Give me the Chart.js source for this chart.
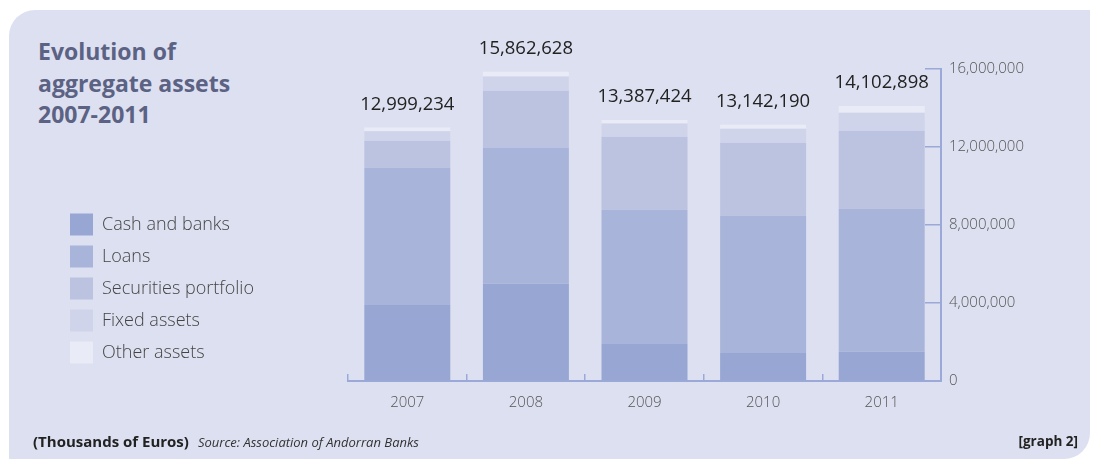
<!DOCTYPE html>
<html>
<head>
<meta charset="utf-8">
<script src="https://cdn.jsdelivr.net/npm/chart.js@4/dist/chart.umd.min.js"></script>
<style>
  html, body { margin: 0; padding: 0; background: #fff; }
  body { width: 1098px; height: 459px; position: relative; overflow: hidden; font-family: 'Open Sans', sans-serif; }
  .panel {
    position: absolute; left: 9px; top: 10px; width: 1081px; height: 449px;
    background: #dde0f0; border-radius: 26px 0 26px 0;
  }
  .title {
    position: absolute; left: 38px; top: 36px; margin: 0;
    font-size: 23px; line-height: 31.5px; font-weight: 700; color: #5b6283;
  }
  .wrap { position: absolute; left: 0; top: 0; width: 1098px; height: 459px; }
  .foot { position: absolute; top: 432px; font-size: 13.5px; color: #222; line-height: 18px; white-space: nowrap; }
  .foot b { font-weight: 700; }
  .foot .unit { font-size: 15px; }
  .foot i { font-size: 13px; margin-left: 9px; color: #333; }
</style>
</head>
<body>
<div class="panel"></div>
<h1 class="title">Evolution of<br>aggregate assets<br>2007-2011</h1>
<div class="wrap"><canvas id="chart"></canvas></div>
<div class="foot" style="left:33px"><b class="unit">(Thousands of Euros)</b><i>Source: Association of Andorran Banks</i></div>
<div class="foot" style="right:20px"><b>[graph 2]</b></div>

<script>
// thousands of euros
const years = ['2007', '2008', '2009', '2010', '2011'];
const cashAndBanks = [3901512, 4981207, 1902118, 1438925, 1503687];
const loans = [7031420, 6998354, 6879503, 7031876, 7325940];
const securities = [1387655, 2908716, 3748260, 3748102, 4003215];
const fixedAssets = [481236, 731529, 679334, 720413, 921368];
const otherAssets = [197411, 242822, 178209, 202874, 348688];
const yTicks = [0, 4000000, 8000000, 12000000, 16000000];

const AXIS = '#9aa9d8';
const tickFont = { family: 'Open Sans', size: 15, weight: '300' };

// total above each stack
const totalsPlugin = {
  id: 'totals',
  afterDatasetsDraw(chart) {
    const { ctx } = chart;
    const last = chart.getDatasetMeta(chart.data.datasets.length - 1);
    ctx.save();
    ctx.font = '400 18.5px "Open Sans"';
    ctx.fillStyle = '#222';
    ctx.textAlign = 'center';
    ctx.textBaseline = 'alphabetic';
    years.forEach((y, i) => {
      const total = chart.data.datasets.reduce((s, ds) => s + ds.data[i], 0);
      const bar = last.data[i];
      ctx.fillText(total.toLocaleString('en-US'), bar.x, bar.y - 18);
    });
    ctx.restore();
  }
};

// keep the legend column wide so the plot starts further right
const legendWidth = {
  id: 'legendWidth',
  beforeInit(chart) {
    const fit = chart.legend.fit;
    chart.legend.fit = function () {
      fit.call(this);
      this.width = 288;
    };
  }
};

new Chart(document.getElementById('chart'), {
  type: 'bar',
  data: {
    labels: years,
    datasets: [
      { label: 'Cash and banks', data: cashAndBanks, backgroundColor: '#97a6d2' },
      { label: 'Loans', data: loans, backgroundColor: '#a8b4da' },
      { label: 'Securities portfolio', data: securities, backgroundColor: '#bcc3e1' },
      { label: 'Fixed assets', data: fixedAssets, backgroundColor: '#d0d4eb' },
      { label: 'Other assets', data: otherAssets, backgroundColor: '#e9ebf6' }
    ]
  },
  options: {
    responsive: true,
    maintainAspectRatio: false,
    animation: false,
    layout: { padding: { left: 60, top: 69, right: 57, bottom: 38 } },
    datasets: { bar: { barPercentage: 0.725, categoryPercentage: 1, borderWidth: 0 } },
    plugins: {
      tooltip: { enabled: false },
      legend: {
        position: 'left',
        fullSize: false,
        align: 'center',
        title: { display: true, text: '', font: { size: 10, lineHeight: 1 }, padding: { top: 117, bottom: 0 } },
        labels: {
          boxWidth: 23,
          boxHeight: 22,
          padding: 10,
          color: '#444',
          font: { family: 'Open Sans', size: 18, weight: '300' }
        }
      }
    },
    scales: {
      x: {
        stacked: true,
        grid: { drawOnChartArea: false, offset: true, tickLength: -7, color: AXIS, lineWidth: 1.5 },
        border: { color: AXIS, width: 2 },
        ticks: { padding: 20, color: '#555', font: tickFont },
        afterFit(scale) { scale.height = 40; }
      },
      y: {
        stacked: true,
        position: 'right',
        min: 0,
        max: 16000000,
        afterBuildTicks(scale) { scale.ticks = yTicks.map(v => ({ value: v })); },
        grid: { drawOnChartArea: false, tickLength: -16, color: AXIS, lineWidth: 1.5 },
        border: { color: AXIS, width: 2 },
        ticks: { padding: 24, color: '#555', font: tickFont, callback: v => v.toLocaleString('en-US') },
        afterFit(scale) { scale.width = 100; }
      }
    }
  },
  plugins: [totalsPlugin, legendWidth]
});
</script>
</body>
</html>
